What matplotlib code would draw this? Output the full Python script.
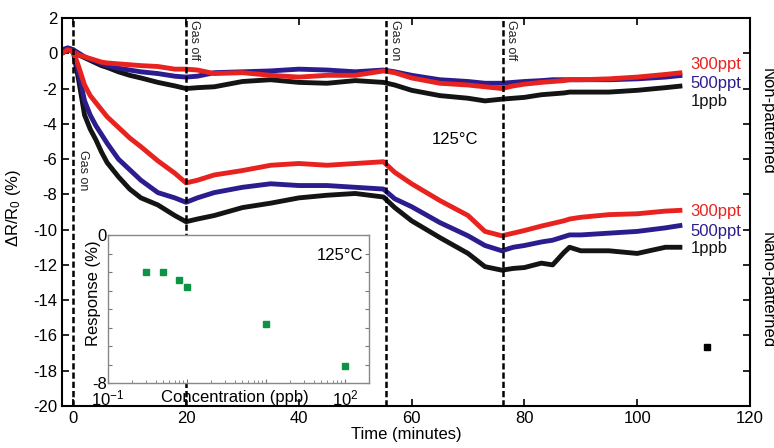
import numpy as np
import matplotlib.pyplot as plt
from matplotlib.ticker import FixedLocator, FixedFormatter, LogLocator, NullFormatter

plt.rcParams['font.family'] = ['Liberation Sans', 'DejaVu Sans']
plt.rcParams['font.size'] = 12
plt.rcParams['axes.unicode_minus'] = False
plt.rcParams['mathtext.fontset'] = 'custom'
plt.rcParams['mathtext.rm'] = 'Liberation Sans'
plt.rcParams['mathtext.it'] = 'Liberation Sans:italic'

# tempo (min)
t = [-2, -1, 0, 1, 2, 3, 4, 5, 6, 8, 10, 12, 15, 18, 20, 22, 25, 30, 35, 40,
     45, 50, 55, 57, 60, 65, 70, 73, 76, 78, 80, 83, 85, 87, 88, 90, 95, 100, 105, 108]

# nao padronizado (curvas de cima)
np_300ppt = [0.0, 0.2, 0.1, -0.1, -0.2, -0.3, -0.4, -0.5, -0.55, -0.6, -0.65, -0.7, -0.75, -0.9, -0.9,
             -0.95, -1.15, -1.1, -1.25, -1.35, -1.25, -1.25, -1.0, -1.1, -1.4, -1.7, -1.8, -1.9, -2.0,
             -1.85, -1.75, -1.65, -1.6, -1.55, -1.5, -1.5, -1.45, -1.35, -1.2, -1.1]
np_500ppt = [0.2, 0.3, 0.2, 0.0, -0.2, -0.35, -0.45, -0.6, -0.7, -0.85, -0.95, -1.05, -1.15, -1.3, -1.35,
             -1.3, -1.1, -1.05, -1.0, -0.9, -0.95, -1.05, -0.95, -1.05, -1.25, -1.5, -1.6, -1.7, -1.7,
             -1.65, -1.6, -1.55, -1.5, -1.5, -1.5, -1.5, -1.5, -1.45, -1.35, -1.25]
np_1ppb = [0.1, 0.2, 0.1, -0.1, -0.25, -0.4, -0.55, -0.7, -0.8, -1.05, -1.25, -1.4, -1.65, -1.85, -2.0,
           -1.95, -1.9, -1.6, -1.5, -1.65, -1.7, -1.55, -1.65, -1.8, -2.1, -2.4, -2.55, -2.7, -2.6,
           -2.55, -2.5, -2.35, -2.3, -2.25, -2.2, -2.2, -2.2, -2.1, -1.95, -1.85]

# nano-padronizado (curvas de baixo)
p_300ppt = [0.0, 0.2, 0.1, -0.8, -1.8, -2.4, -2.8, -3.2, -3.6, -4.2, -4.8, -5.3, -6.1, -6.8, -7.35,
            -7.2, -6.9, -6.65, -6.35, -6.25, -6.35, -6.25, -6.15, -6.75, -7.4, -8.35, -9.2, -10.1, -10.35,
            -10.2, -10.05, -9.8, -9.65, -9.5, -9.4, -9.3, -9.15, -9.1, -8.95, -8.9]
p_500ppt = [0.1, 0.3, 0.2, -1.2, -2.7, -3.5, -4.1, -4.6, -5.1, -6.0, -6.6, -7.2, -7.9, -8.2, -8.45,
            -8.2, -7.9, -7.6, -7.4, -7.5, -7.5, -7.6, -7.7, -8.25, -8.7, -9.6, -10.35, -10.9, -11.2,
            -11.0, -10.9, -10.7, -10.6, -10.4, -10.3, -10.3, -10.2, -10.1, -9.9, -9.75]
p_1ppb = [0.0, 0.2, 0.1, -1.6, -3.5, -4.3, -4.9, -5.6, -6.2, -7.0, -7.7, -8.2, -8.6, -9.2, -9.55,
          -9.4, -9.2, -8.75, -8.5, -8.2, -8.05, -7.95, -8.15, -8.75, -9.5, -10.45, -11.35, -12.1, -12.3,
          -12.2, -12.15, -11.9, -12.0, -11.3, -11.0, -11.2, -11.2, -11.35, -11.0, -11.0]

gas_t = [0, 20, 55.5, 76.2]
gas_txt = ['Gas on', 'Gas off', 'Gas on', 'Gas off']

# inset
conc = [0.3, 0.5, 0.8, 1, 10, 100]
resp = [-2.0, -2.0, -2.45, -2.8, -4.8, -7.1]

RED = '#e8231f'
BLUE = '#2b1d8e'
BLACK = '#141414'

fig = plt.figure(figsize=(7.74, 4.48), dpi=100)
ax = fig.add_axes([0.0801, 0.0938, 0.8889, 0.866])

for serie, cor in [(np_1ppb, BLACK), (np_500ppt, BLUE), (np_300ppt, RED),
                   (p_1ppb, BLACK), (p_500ppt, BLUE), (p_300ppt, RED)]:
    ax.plot(t, serie, color=cor, lw=3.5, solid_joinstyle='round', solid_capstyle='butt')

for g in gas_t:
    ax.axvline(g, color='black', lw=1.8, dashes=(2.5, 1.2), zorder=3)

ax.text(0.7, -5.5, 'Gas on', rotation=270, fontsize=9, ha='left', va='top', color='#222222')
for g, s in zip(gas_t[1:], gas_txt[1:]):
    ax.text(g + 0.4, 1.9, s, rotation=270, fontsize=9, ha='left', va='top', color='#222222')

rotulos = [('300ppt', -0.65, RED), ('500ppt', -1.72, BLUE), ('1ppb', -2.72, BLACK),
           ('300ppt', -9.0, RED), ('500ppt', -10.08, BLUE), ('1ppb', -11.05, BLACK)]
for s, yv, cor in rotulos:
    ax.text(109.5, yv, s, color=cor, ha='left', va='center')

ax.text(67.7, -4.9, '125°C', ha='center', va='center')
ax.plot([112.4], [-16.65], 's', color='black', ms=4.5)

ax.set_xlim(-2, 120)
ax.set_ylim(-20, 2)
ax.set_xticks(range(0, 121, 20))
ax.set_yticks(range(-20, 3, 2))
ax.tick_params(direction='in', top=True, right=True, length=5, width=1.2, labelsize=12)
for sp in ax.spines.values():
    sp.set_linewidth(1.5)
ax.set_xlabel('Time (minutes)', labelpad=1)
ax.set_ylabel(r'ΔR/R$_\mathregular{0}$ (%)')
ax.yaxis.set_label_coords(-0.057, 0.51)

fig.text(767 / 774, 1 - 121 / 448, 'Non-patterned', rotation=270, ha='center', va='center')
fig.text(767 / 774, 1 - 290 / 448, 'Nano-patterned', rotation=270, ha='center', va='center')

# inset
ins = fig.add_axes([0.1395, 0.145, 0.337, 0.330], zorder=5)
ins.set_facecolor('white')
ins.plot(conc, resp, 's', color='#0c9444', ms=4.5)
ins.set_xscale('log')
ins.set_xlim(0.1, 200)
ins.set_ylim(-8, 0)
ins.yaxis.set_major_locator(FixedLocator(range(-8, 1)))
ins.yaxis.set_major_formatter(FixedFormatter(['-8', '', '', '', '', '', '', '', '0']))
ins.xaxis.set_major_locator(FixedLocator([0.1, 1, 10, 100]))
ins.xaxis.set_major_formatter(FixedFormatter([r'$10^{-1}$', '', '', r'$10^{2}$']))
ins.xaxis.set_minor_locator(LogLocator(base=10, subs=np.arange(2, 10)))
ins.xaxis.set_minor_formatter(NullFormatter())
ins.tick_params(which='both', direction='in', right=True, color='#777777', labelsize=12)
ins.tick_params(axis='y', pad=1)
ins.tick_params(axis='x', pad=4)
ins.tick_params(which='major', length=3)
ins.tick_params(which='minor', length=2)
for sp in ins.spines.values():
    sp.set_color('#888888')
    sp.set_linewidth(1)
ins.text(0.487, -0.1, 'Concentration (ppb)', transform=ins.transAxes, ha='center', va='center')
ins.text(-0.057, 0.61, 'Response (%)', transform=ins.transAxes, rotation=90, ha='center', va='center')
ins.text(0.89, 0.865, '125°C', transform=ins.transAxes, ha='center', va='center')

fig.savefig('out.png', dpi=100)
